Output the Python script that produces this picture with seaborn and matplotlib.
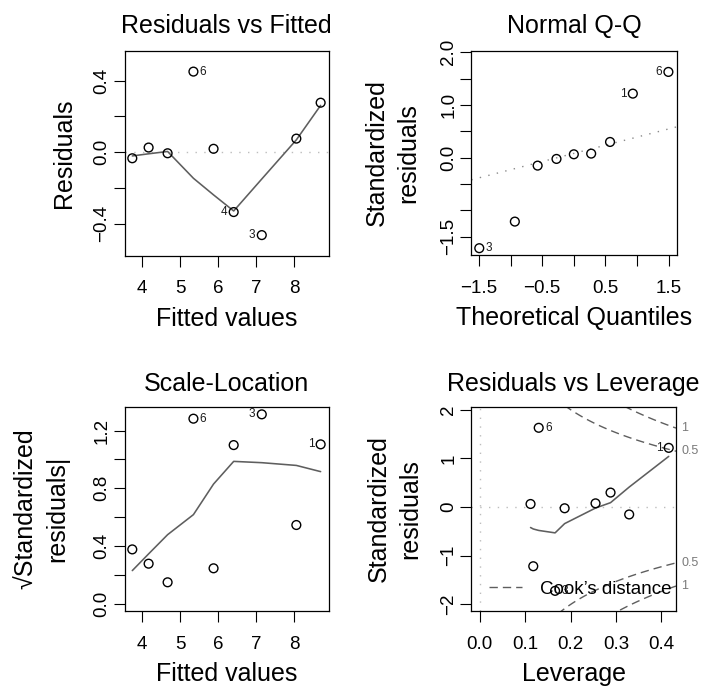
import numpy as np
import matplotlib
matplotlib.use("Agg")
import matplotlib.pyplot as plt
from matplotlib.lines import Line2D
import seaborn as sns

# ---------------- data ----------------
fitted = [3.74, 4.17, 4.67, 5.35, 5.88, 6.41, 7.15, 8.06, 8.70]
residuals = [-0.034, 0.026, -0.006, 0.451, 0.019, -0.335, -0.464, 0.076, 0.277]
std_resid = [-0.152, 0.076, -0.025, 1.627, 0.063, -1.215, -1.720, 0.297, 1.215]
sqrt_abs_std = [0.376, 0.277, 0.148, 1.282, 0.245, 1.099, 1.312, 0.545, 1.104]
leverage = [0.329, 0.255, 0.187, 0.130, 0.112, 0.118, 0.166, 0.288, 0.416]
obs_ids = ["", "", "", "6", "", "4", "3", "", "1"]

rvf_smooth = [-0.021, -0.009, 0.004, -0.146, -0.239, -0.329, -0.150, 0.069, 0.262]
sl_smooth = [0.229, 0.345, 0.478, 0.617, 0.829, 0.986, 0.977, 0.958, 0.915]
lev_smooth = [0.41, -0.02, -0.34, -0.48, -0.42, -0.45, -0.53, 0.09, 1.04]

qq_theoretical = [-1.494, -0.932, -0.572, -0.274, 0.0, 0.274, 0.572, 0.932, 1.494]
qq_sample = [-1.720, -1.215, -0.152, -0.025, 0.063, 0.076, 0.297, 1.215, 1.627]
qq_ids = ["3", "4", "", "", "", "", "", "1", "6"]
qq_line_intercept = 0.08
qq_line_slope = 0.31

rvf_show = ["6", "4", "3"]
qq_show = ["3", "1", "6"]
sl_show = ["6", "3", "1"]
lev_show = ["6", "1", "3"]

cook_levels = [0.5, 1.0]
n_params = 2

titles = ["Residuals vs Fitted", "Normal Q-Q", "Scale-Location", "Residuals vs Leverage"]

# ---------------- style ----------------
sns.set_style("ticks")
plt.rcParams["font.family"] = ["Liberation Sans", "DejaVu Sans"]
plt.rcParams["axes.unicode_minus"] = True
plt.rcParams["text.color"] = "black"
plt.rcParams["axes.labelcolor"] = "black"
plt.rcParams["xtick.color"] = "black"
plt.rcParams["ytick.color"] = "black"

SMOOTH_C = "#5e5e5e"
LBL = 18
TCK = 13.5

fig = plt.figure(figsize=(7.05, 6.91), dpi=100)
W, H = 705.0, 691.0


def add_ax(x0, y0, x1, y1):
    return fig.add_axes([x0 / W, 1 - y1 / H, (x1 - x0) / W, (y1 - y0) / H])


ax1 = add_ax(124.5, 50.7, 329, 256)
ax2 = add_ax(471.3, 50.7, 677, 255.3)
ax3 = add_ax(124.5, 406.7, 329, 611.3)
ax4 = add_ax(471.3, 406.7, 676, 611.3)


def setup(ax, xlim, ylim, xt, xl, yt, yl):
    ax.set_xlim(xlim)
    ax.set_ylim(ylim)
    ax.set_xticks(xt)
    ax.set_xticklabels(xl)
    ax.set_yticks(yt)
    ax.set_yticklabels(yl, rotation=90, va="center")
    ax.tick_params(axis="both", direction="out", length=8, width=0.8,
                   color="black", labelsize=TCK, labelcolor="black")
    ax.tick_params(axis="x", pad=9.5)
    ax.tick_params(axis="y", pad=2.2)
    for sp in ax.spines.values():
        sp.set_visible(True)
        sp.set_color("black")
        sp.set_linewidth(0.9)
    ax.grid(False)


def points(ax, x, y):
    sns.scatterplot(x=x, y=y, ax=ax, s=40, marker="o", facecolors="none",
                    edgecolors="black", linewidths=1.0, legend=False, zorder=3)


def smooth(ax, x, y):
    sns.lineplot(x=x, y=y, ax=ax, color=SMOOTH_C, lw=1.15, estimator=None,
                 sort=True, legend=False, zorder=2)


def label_points(ax, x, y, ids, show):
    mid = (min(x) + max(x)) / 2
    for xi, yi, lab in zip(x, y, ids):
        if lab and lab in show:
            right = xi < mid
            ax.annotate(lab, (xi, yi), xytext=(4.6 if right else -4.6, 0),
                        textcoords="offset points",
                        ha="left" if right else "right", va="center",
                        fontsize=8.5, color="#1a1a1a")


# ---- Panel 1: Residuals vs Fitted ----
ax1.axhline(0, color="#bdbdbd", lw=1.0, ls=(0, (1, 5.3)), zorder=1)
smooth(ax1, fitted, rvf_smooth)
points(ax1, fitted, residuals)
label_points(ax1, fitted, residuals, obs_ids, rvf_show)
setup(ax1, (3.535, 8.92), (-0.581, 0.568), [4, 5, 6, 7, 8], ["4", "5", "6", "7", "8"],
      [-0.4, -0.2, 0.0, 0.2, 0.4], ["\u22120.4", "", "0.0", "", "0.4"])
ax1.set_title(titles[0], fontsize=LBL, pad=13)
ax1.set_xlabel("Fitted values", fontsize=LBL)
ax1.set_ylabel("Residuals", fontsize=LBL)

# ---- Panel 2: Normal Q-Q ----
ax2.axline((0, qq_line_intercept), slope=qq_line_slope, color="#8a8a8a", lw=1.0,
           ls=(0, (1, 5.3)), zorder=1)
points(ax2, qq_theoretical, qq_sample)
label_points(ax2, qq_theoretical, qq_sample, qq_ids, qq_show)
setup(ax2, (-1.62, 1.63), (-1.855, 2.03),
      [-1.5, -1.0, -0.5, 0.0, 0.5, 1.0, 1.5],
      ["\u22121.5", "", "\u22120.5", "", "0.5", "", "1.5"],
      [-1.5, -1.0, -0.5, 0.0, 0.5, 1.0, 1.5, 2.0],
      ["\u22121.5", "", "", "0.0", "", "1.0", "", "2.0"])
ax2.set_title(titles[1], fontsize=LBL, pad=13)
ax2.set_xlabel("Theoretical Quantiles", fontsize=LBL)
ax2.set_ylabel("Standardized\nresiduals", fontsize=LBL, linespacing=1.38)

# ---- Panel 3: Scale-Location ----
smooth(ax3, fitted, sl_smooth)
points(ax3, fitted, sqrt_abs_std)
label_points(ax3, fitted, sqrt_abs_std, obs_ids, sl_show)
setup(ax3, (3.535, 8.92), (-0.053, 1.365), [4, 5, 6, 7, 8], ["4", "5", "6", "7", "8"],
      [0.0, 0.2, 0.4, 0.6, 0.8, 1.0, 1.2], ["0.0", "", "0.4", "", "0.8", "", "1.2"])
ax3.set_title(titles[2], fontsize=LBL, pad=11.5)
ax3.set_xlabel("Fitted values", fontsize=LBL)
ax3.set_ylabel("\u221aStandardized\nresiduals|", fontsize=LBL, linespacing=1.38)

# ---- Panel 4: Residuals vs Leverage ----
xlim4 = (-0.0183, 0.432)
ax4.axhline(0, color="#bdbdbd", lw=1.0, ls=(0, (1, 5.3)), zorder=1)
ax4.axvline(0, color="#bdbdbd", lw=1.0, ls=(0, (1, 5.3)), zorder=1)
hh = np.linspace(0.001, xlim4[1], 101)
for lev_c in cook_levels:
    curve = np.sqrt(lev_c * n_params * (1 - hh) / hh)
    for sgn in (1, -1):
        ax4.plot(hh, sgn * curve, color=SMOOTH_C, lw=1.0, ls=(0, (6, 3.6)), zorder=1)
smooth(ax4, leverage, lev_smooth)
points(ax4, leverage, std_resid)
label_points(ax4, leverage, std_resid, obs_ids, lev_show)
setup(ax4, xlim4, (-2.14, 2.06), [0.0, 0.1, 0.2, 0.3, 0.4],
      ["0.0", "0.1", "0.2", "0.3", "0.4"],
      [-2, -1, 0, 1, 2], ["\u22122", "\u22121", "0", "1", "2"])
ax4.set_title(titles[3], fontsize=LBL, pad=11.5)
ax4.set_xlabel("Leverage", fontsize=LBL)
ax4.set_ylabel("Standardized\nresiduals", fontsize=LBL, linespacing=1.38)
xmax = xlim4[1]
for lev_c in cook_levels:
    yv = np.sqrt(lev_c * n_params * (1 - xmax) / xmax)
    for sgn in (1, -1):
        ax4.text(1.025, sgn * yv, f"{lev_c:g}", transform=ax4.get_yaxis_transform(),
                 ha="left", va="center", fontsize=9, color="#7a7a7a", clip_on=False)
leg = ax4.legend(handles=[Line2D([0], [0], color=SMOOTH_C, lw=1.0, ls=(0, (6, 3.6)))],
                 labels=["Cook\u2019s distance"], loc="center left",
                 bbox_to_anchor=(0.085, 0.109), frameon=False, fontsize=13.5,
                 borderpad=0, borderaxespad=0, handlelength=1.75, handletextpad=1.0)
for t in leg.get_texts():
    t.set_color("black")

# ---- label positions ----
ax1.yaxis.set_label_coords(-0.238, 0.5)
ax2.yaxis.set_label_coords(-0.247, 0.5)
ax3.yaxis.set_label_coords(-0.272, 0.5)
ax4.yaxis.set_label_coords(-0.239, 0.5)
for ax in (ax1, ax2, ax3, ax4):
    ax.xaxis.set_label_coords(0.5, -0.25)

fig.savefig("out.png", dpi=100)
